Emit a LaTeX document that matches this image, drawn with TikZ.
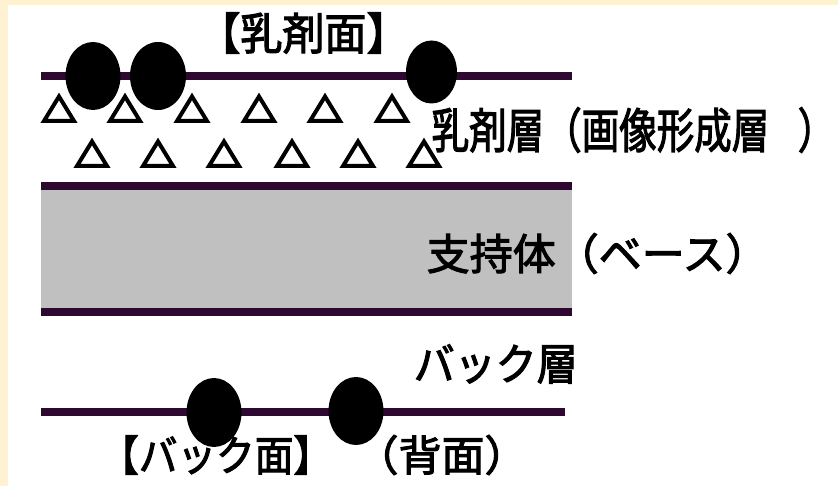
\documentclass[tikz,border=0pt]{standalone}
\usepackage{fontspec}
\newfontfamily\jp{Noto Sans CJK JP}[FakeBold=2.5]
\definecolor{cream}{HTML}{FEF2D3}
\definecolor{filmpurple}{HTML}{2E0830}
\definecolor{basegray}{HTML}{C0C0C0}
\begin{document}
\begin{tikzpicture}[x=1pt,y=-1pt,
  layerline/.style={line width=8pt, draw=filmpurple},
  grain/.style={fill=black},
  tri/.style={draw=black, line width=4pt, line join=miter},
  lbl/.style={inner sep=0pt, font=\jp\fontsize{42}{42}\selectfont}]
\useasboundingbox (0,0) rectangle (838,486);
\fill[white] (0,0) rectangle (838,486);
\fill[cream] (0,0) rectangle (838,5);
\fill[cream] (0,0) rectangle (8,486);
% support
\fill[basegray] (41,186) rectangle (572,312);
\draw[layerline] (41,186) -- (572,186);
\draw[layerline] (41,312) -- (572,312);
% emulsion surface line
\draw[layerline] (41,76) -- (572,76);
% back layer line
\draw[layerline] (41,412) -- (565,412);
% triangles
\foreach \cx in {59,125,192,259,325,392}
  \draw[tri] (\cx,96.5) -- (\cx+15,121) -- (\cx-15,121) -- cycle;
\foreach \cx in {92,158,224,292,358,424}
  \draw[tri] (\cx,141.5) -- (\cx+15,166) -- (\cx-15,166) -- cycle;
% labels
\node[lbl, anchor=center] (emface) at (303.5,33) {\scalebox{1}[1.05]{【乳剤面】}};
\node[lbl, anchor=west] (emlayer) at (431.5,130)
  {\scalebox{0.893}[1.14]{乳剤層（画像形成層\hspace{32pt}）}};
\node[lbl, anchor=west] (base) at (426.5,253.5)
  {\scalebox{1.024}[1.02]{支持体（ベース）}};
\node[lbl, anchor=west] (backlayer) at (413.5,364)
  {\scalebox{0.976}[1.04]{バック層}};
\node[lbl, anchor=west] (backface) at (100,455)
  {\scalebox{0.92}[1]{【バック面】}\hspace{23.5pt}\scalebox{1.024}[1]{（背面）}};
% grains (dots)
\fill[grain] (93,76) ellipse [x radius=27.5pt, y radius=34pt];
\fill[grain] (158,76) ellipse [x radius=28pt, y radius=34pt];
\fill[grain] (431.5,72) ellipse [x radius=25.5pt, y radius=31.5pt];
\fill[grain] (214,412.5) ellipse [x radius=27.5pt, y radius=34.5pt];
\fill[grain] (356,411) ellipse [x radius=27.5pt, y radius=34pt];
\end{tikzpicture}
\end{document}
